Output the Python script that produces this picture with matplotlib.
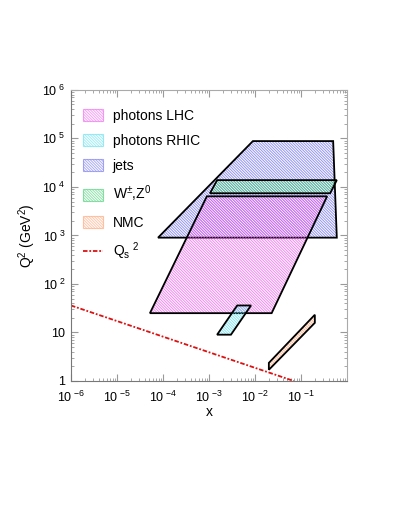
import matplotlib
matplotlib.use("Agg")
from matplotlib import pyplot as plt
from matplotlib.patches import Patch
from matplotlib.lines import Line2D

plt.rcParams['font.family'] = ['Liberation Sans', 'DejaVu Sans']
plt.rcParams['mathtext.fontset'] = 'custom'
plt.rcParams['mathtext.rm'] = 'Liberation Sans'
plt.rcParams['mathtext.it'] = 'Liberation Sans:italic'
plt.rcParams['hatch.linewidth'] = 0.7

# kinematic regions (x, Q^2 corners)
lhc_x = [5.2e-5, 0.023, 0.37, 9e-4]
lhc_q2 = [25, 25, 6400, 6400]
rhic_x = [1.5e-3, 3e-3, 8.2e-3, 4.1e-3]
rhic_q2 = [9, 9, 36, 36]
jets_x = [7.8e-5, 0.6, 0.5, 9e-3]
jets_q2 = [900, 900, 88000, 88000]
wz_x = [1.05e-3, 0.43, 0.6, 1.5e-3]
wz_q2 = [7400, 7400, 13800, 13800]
nmc_x = [0.02, 0.2, 0.2, 0.02]
nmc_q2 = [1.7, 15.8, 23.2, 2.36]

# saturation scale
qs_x = [1e-6, 0.07]
qs_q2 = [36, 1]

labels = ["photons LHC", "photons RHIC", "jets", r"W$^{\pm}$,Z$^0$", "NMC"]
colors = ["#ee55ee", "#55ddee", "#6666ee", "#33cc66", "#ff9966"]

xticks = [1e-6, 1e-5, 1e-4, 1e-3, 1e-2, 1e-1]
xticklabels = [r"$\mathregular{10^{\ {-6}}}$", r"$\mathregular{10^{\ {-5}}}$", r"$\mathregular{10^{\ {-4}}}$",
               r"$\mathregular{10^{\ {-3}}}$", r"$\mathregular{10^{\ {-2}}}$", r"$\mathregular{10^{\ {-1}}}$"]
yticks = [1, 10, 1e2, 1e3, 1e4, 1e5, 1e6]
yticklabels = ["1", "10", r"$\mathregular{10^{\ 2}}$", r"$\mathregular{10^{\ 3}}$",
               r"$\mathregular{10^{\ 4}}$", r"$\mathregular{10^{\ 5}}$", r"$\mathregular{10^{\ 6}}$"]

HATCH = "\\" * 12

fig = plt.figure(figsize=(4, 5.18), dpi=100)
ax = fig.add_axes([0.1775, 0.2645, 0.69, 0.562])
ax.set_xscale("log")
ax.set_yscale("log")
ax.set_xlim(1e-6, 1)
ax.set_ylim(1, 1e6)

regions = [(jets_x, jets_q2, colors[2]),
           (lhc_x, lhc_q2, colors[0]),
           (wz_x, wz_q2, colors[3]),
           (rhic_x, rhic_q2, colors[1]),
           (nmc_x, nmc_q2, colors[4])]
for xs, qs, c in regions:
    ax.fill(xs, qs, facecolor="none", edgecolor=c, hatch=HATCH, linewidth=0, alpha=0.7)
    ax.fill(xs, qs, facecolor="none", edgecolor="black", linewidth=1.3)

ax.plot(qs_x, qs_q2, color="#dd1111", lw=1.3, dashes=(2.5, 1, 1, 1))

ax.set_xticks(xticks)
ax.set_xticklabels(xticklabels)
ax.set_yticks(yticks)
ax.set_yticklabels(yticklabels)
ax.tick_params(which="both", direction="in", top=True, right=True, color="#999999")
ax.tick_params(which="major", length=5, labelsize=9, pad=4)
ax.tick_params(axis="x", which="major", pad=6)
ax.tick_params(which="minor", length=2.5)
for s in ["left", "bottom"]:
    ax.spines[s].set_color("#777777")
for s in ["top", "right"]:
    ax.spines[s].set_color("#aaaaaa")

ax.set_xlabel("x", fontsize=10, labelpad=0)
ax.set_ylabel(r"Q$^2$ (GeV$^2$)", fontsize=10, labelpad=3)

handles = [Patch(facecolor="white", edgecolor=c, hatch=HATCH, linewidth=0.8, alpha=0.55) for c in colors]
handles.append(Line2D([], [], color="#dd1111", lw=1.3, dashes=(2.5, 1, 1, 1)))
ax.legend(handles, labels + [r"Q$_\mathregular{s}$$^{\ 2}$"], loc="upper left",
          bbox_to_anchor=(0.043, 0.936), frameon=False, fontsize=10,
          borderpad=0, borderaxespad=0, handlelength=1.45, handleheight=0.95,
          handletextpad=0.7, labelspacing=0.8)

fig.savefig("out.png", dpi=100)
